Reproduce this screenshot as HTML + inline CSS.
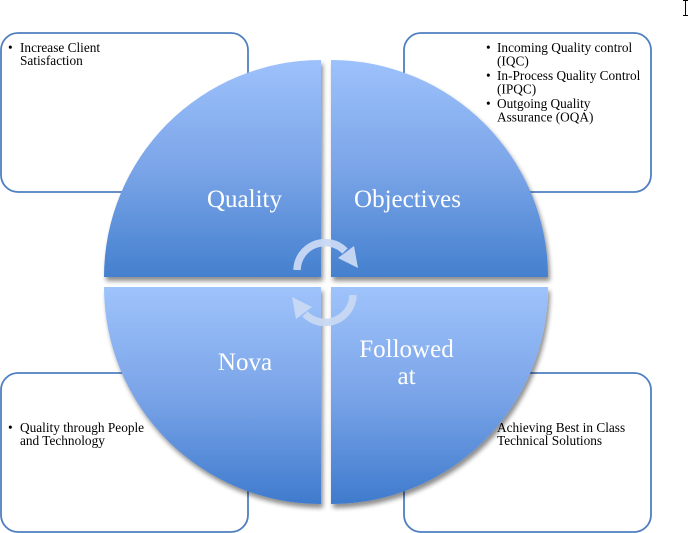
<!DOCTYPE html>
<html>
<head>
<meta charset="utf-8">
<style>
  html,body{margin:0;padding:0;background:#fff;}
  body{width:690px;height:533px;overflow:hidden;}
  svg{display:block;}
  .bx{font-family:"Liberation Serif",serif;font-size:13.3px;fill:#000;}
  .lbl{font-family:"Liberation Serif",serif;font-size:25px;fill:#fff;}
</style>
</head>
<body>
<svg width="690" height="533" viewBox="0 0 690 533" xmlns="http://www.w3.org/2000/svg">
  <defs>
    <linearGradient id="gt" gradientUnits="userSpaceOnUse" x1="0" y1="60" x2="0" y2="277">
      <stop offset="0" stop-color="#9DC1FB"/>
      <stop offset="0.5" stop-color="#7BA5E8"/>
      <stop offset="1" stop-color="#4480CE"/>
    </linearGradient>
    <linearGradient id="gb" gradientUnits="userSpaceOnUse" x1="0" y1="287" x2="0" y2="504">
      <stop offset="0" stop-color="#9FC3FB"/>
      <stop offset="0.5" stop-color="#7AA4E8"/>
      <stop offset="1" stop-color="#3F7BCD"/>
    </linearGradient>
    <filter id="sh" x="-10%" y="-10%" width="130%" height="130%">
      <feGaussianBlur in="SourceAlpha" stdDeviation="2.5"/>
      <feOffset dx="2" dy="4" result="o"/>
      <feComponentTransfer><feFuncA type="linear" slope="0.45"/></feComponentTransfer>
      <feMerge><feMergeNode/><feMergeNode in="SourceGraphic"/></feMerge>
    </filter>
  </defs>

  <!-- boxes -->
  <rect x="1" y="33" width="247" height="159" rx="17" ry="17" fill="#fff" stroke="#4F7FC0" stroke-width="1.8"/>
  <rect x="404" y="33" width="247" height="159" rx="17" ry="17" fill="#fff" stroke="#4F7FC0" stroke-width="1.8"/>
  <rect x="1" y="373" width="247" height="159" rx="17" ry="17" fill="#fff" stroke="#4F7FC0" stroke-width="1.8"/>
  <rect x="404" y="373" width="247" height="159" rx="17" ry="17" fill="#fff" stroke="#4F7FC0" stroke-width="1.8"/>

  <!-- box texts -->
  <text class="bx" x="8" y="52">•</text>
  <text class="bx" x="20" y="52">Increase Client</text>
  <text class="bx" x="20" y="65">Satisfaction</text>

  <text class="bx" x="486" y="52">•</text>
  <text class="bx" x="497" y="52">Incoming Quality control</text>
  <text class="bx" x="497" y="65.5">(IQC)</text>
  <text class="bx" x="486" y="80">•</text>
  <text class="bx" x="497" y="80">In-Process Quality Control</text>
  <text class="bx" x="497" y="93.5">(IPQC)</text>
  <text class="bx" x="486" y="108">•</text>
  <text class="bx" x="497" y="108">Outgoing Quality</text>
  <text class="bx" x="497" y="121.5">Assurance (OQA)</text>

  <text class="bx" x="8" y="432">•</text>
  <text class="bx" x="20" y="432">Quality through People</text>
  <text class="bx" x="20" y="445">and Technology</text>

  <text class="bx" x="497" y="432">Achieving Best in Class</text>
  <text class="bx" x="497" y="445">Technical Solutions</text>

  <!-- quadrants -->
  <g filter="url(#sh)">
    <path d="M321,277 L104,277 A217,217 0 0 1 321,60 Z" fill="url(#gt)"/>
    <path d="M331,277 L331,60 A217,217 0 0 1 548,277 Z" fill="url(#gt)"/>
    <path d="M321,287 L321,504 A217,217 0 0 1 104,287 Z" fill="url(#gb)"/>
    <path d="M331,287 L548,287 A217,217 0 0 1 331,504 Z" fill="url(#gb)"/>
  </g>

  <!-- labels -->
  <text class="lbl" x="244.5" y="207" text-anchor="middle">Quality</text>
  <text class="lbl" x="407.5" y="207" text-anchor="middle">Objectives</text>
  <text class="lbl" x="245" y="370" text-anchor="middle">Nova</text>
  <text class="lbl" x="406.5" y="357" text-anchor="middle">Followed</text>
  <text class="lbl" x="406.5" y="384" text-anchor="middle">at</text>

  <!-- circular arrows -->
  <g fill="none" stroke="#C9D9F3" stroke-width="7.5" opacity="0.95">
    <path d="M297,270 A28,28 0 0 1 345,251"/>
    <path d="M353,295 A28,28 0 0 1 305,314"/>
  </g>
  <polygon points="338,258 354,246 358,268" fill="#C9D9F3" opacity="0.95"/>
  <polygon points="312,307 296,319 292,297" fill="#C9D9F3" opacity="0.95"/>

  <!-- I-beam cursor -->
  <g stroke="#000" stroke-width="1" fill="none">
    <line x1="685.5" y1="1" x2="685.5" y2="15"/>
    <line x1="683" y1="0.5" x2="688" y2="0.5"/>
    <line x1="683" y1="15.5" x2="688" y2="15.5"/>
  </g>
</svg>
</body>
</html>
